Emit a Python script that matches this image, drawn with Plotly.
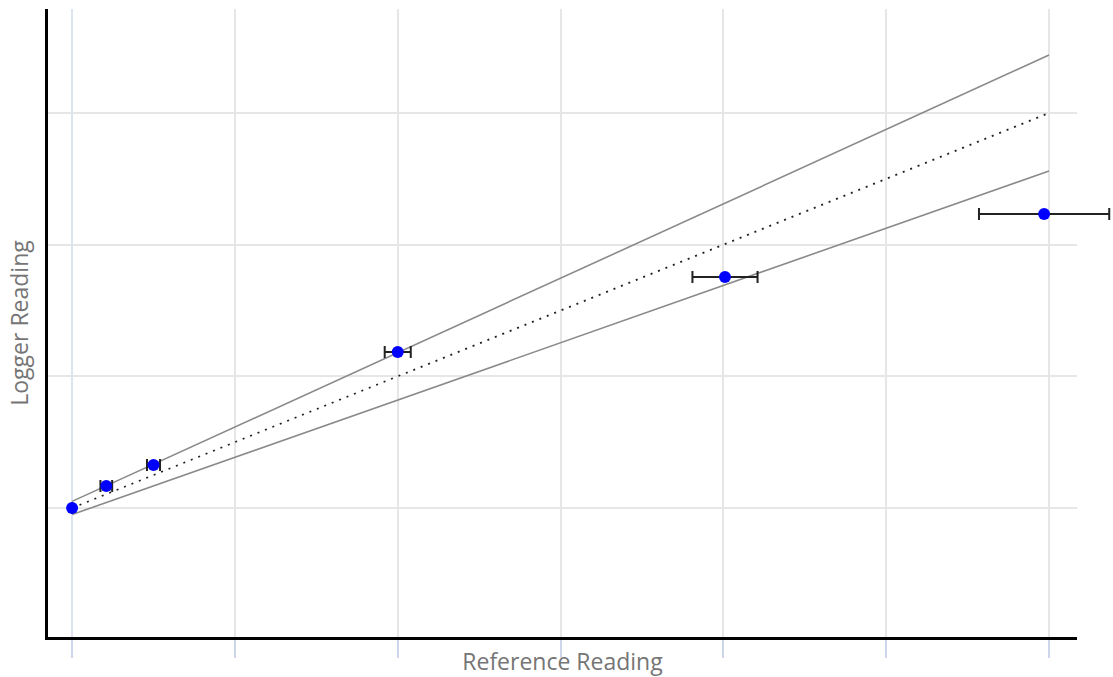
import plotly.graph_objects as go

# Measured points
reference_reading = [0.0, 1.05, 2.5, 10.0, 20.05, 29.85]
logger_reading = [0.0, 1.67, 3.27, 11.85, 17.54, 22.33]
reference_error = [0.0, 0.18, 0.2, 0.4, 1.0, 2.0]

# Guide lines (ideal and tolerance band)
line_x = [0.0, 30.0]
ideal_y = [0.0, 30.0]
upper_y = [0.5, 34.4]
lower_y = [-0.5, 25.6]

X_MIN, X_MAX = -0.74, 30.86
Y_MIN, Y_MAX = -9.8, 37.9

# plot geometry (pixels)
W, H = 1113, 677
ML, MR, MT, MB = 48, 2, 9, 40
AXIS_RIGHT_PX = 1077
full_w = W - ML - MR
main_w = AXIS_RIGHT_PX - ML
px_per_unit = main_w / (X_MAX - X_MIN)
x2_max = X_MIN + full_w / px_per_unit

fig = go.Figure()

fig.add_trace(go.Scatter(x=line_x, y=upper_y, mode="lines", xaxis="x", yaxis="y",
                         line=dict(color="#8a8a8a", width=1.6), hoverinfo="skip"))
fig.add_trace(go.Scatter(x=line_x, y=lower_y, mode="lines", xaxis="x", yaxis="y",
                         line=dict(color="#8a8a8a", width=1.6), hoverinfo="skip"))
fig.add_trace(go.Scatter(x=line_x, y=ideal_y, mode="lines", xaxis="x", yaxis="y",
                         line=dict(color="#222222", width=1.8, dash="2px,6px"), hoverinfo="skip"))
fig.add_trace(go.Scatter(
    x=reference_reading, y=logger_reading, mode="markers", xaxis="x2", yaxis="y2",
    marker=dict(color="#0000ff", size=12),
    error_x=dict(type="data", array=reference_error, visible=True,
                 color="#222222", thickness=2, width=6),
    cliponaxis=False,
))

axis_title_font = dict(family="Open Sans, Noto Sans, sans-serif", size=23, color="#757575")

fig.update_layout(
    width=W, height=H,
    margin=dict(l=ML, r=MR, t=MT, b=MB),
    paper_bgcolor="white", plot_bgcolor="rgba(0,0,0,0)",
    showlegend=False,
    xaxis=dict(
        domain=[0, main_w / full_w], anchor="y",
        range=[X_MIN, X_MAX], dtick=5, tick0=0,
        showticklabels=False, ticks="outside", ticklen=18, tickcolor="#cdd6ea", tickwidth=1.5,
        showgrid=True, gridcolor="#e6e6e6", gridwidth=1.5,
        zeroline=True, zerolinecolor="#dde3f0", zerolinewidth=1.5,
        showline=True, linecolor="black", linewidth=3,
        title=dict(text="Reference Reading", font=axis_title_font, standoff=0),
        automargin=False,
    ),
    yaxis=dict(
        domain=[0, 1], anchor="x",
        range=[Y_MIN, Y_MAX], dtick=10, tick0=0,
        showticklabels=False, ticks="",
        showgrid=True, gridcolor="#e6e6e6", gridwidth=1.5,
        zeroline=False,
        showline=True, linecolor="black", linewidth=3,
        title=dict(text="Logger Reading", font=axis_title_font, standoff=10),
        automargin=False,
    ),
    xaxis2=dict(
        domain=[0, 1], anchor="y2", range=[X_MIN, x2_max],
        visible=False, showgrid=False, zeroline=False, fixedrange=True,
    ),
    yaxis2=dict(
        domain=[0, 1], anchor="x2", range=[Y_MIN, Y_MAX],
        visible=False, showgrid=False, zeroline=False, fixedrange=True,
    ),
)

fig.write_html("out.html")
